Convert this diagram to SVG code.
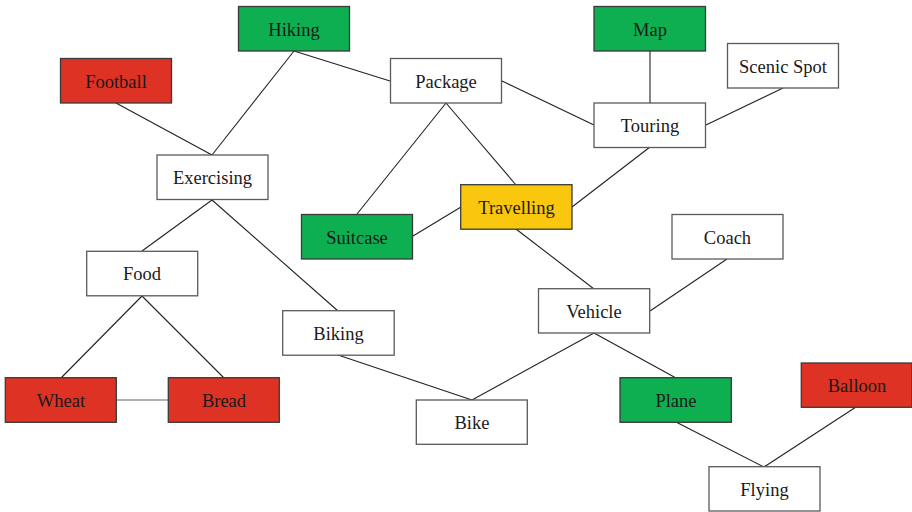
<svg xmlns="http://www.w3.org/2000/svg" width="912" height="512" viewBox="0 0 912 512">
<style>
rect{stroke:#3a3a3a;stroke-width:1.3}
.w{fill:#fff;stroke:#5a5a5a}
.r{fill:#DE3224}
.g{fill:#0DAF50}
.y{fill:#F9C80E}
text{font-family:"Liberation Serif","Times New Roman",serif;font-size:18.5px;fill:#1a1a1a;text-anchor:middle}
#edges line{stroke:#222;stroke-width:1.1}
</style>
<rect width="912" height="512" fill="#fff" style="stroke:none"/>
<g id="edges">
<line x1="116" y1="103" x2="212" y2="155"/>
<line x1="294" y1="51" x2="212" y2="155"/>
<line x1="294" y1="51" x2="390" y2="81"/>
<line x1="446" y1="103" x2="357" y2="214"/>
<line x1="446" y1="103" x2="516" y2="185"/>
<line x1="502" y1="81" x2="594" y2="125"/>
<line x1="650" y1="51" x2="650" y2="103"/>
<line x1="783" y1="88" x2="706" y2="125"/>
<line x1="650" y1="147" x2="572" y2="207"/>
<line x1="413" y1="236" x2="461" y2="207"/>
<line x1="516" y1="229" x2="594" y2="289"/>
<line x1="727" y1="259" x2="650" y2="311"/>
<line x1="212" y1="200" x2="142" y2="251"/>
<line x1="212" y1="200" x2="338" y2="311"/>
<line x1="142" y1="296" x2="61" y2="378"/>
<line x1="142" y1="296" x2="224" y2="378"/>
<line x1="116" y1="400" x2="168" y2="400" style="stroke:#666"/>
<line x1="338" y1="355" x2="472" y2="400"/>
<line x1="594" y1="333" x2="472" y2="400"/>
<line x1="594" y1="333" x2="676" y2="378"/>
<line x1="676" y1="422" x2="764" y2="467"/>
<line x1="856" y1="407" x2="764" y2="467"/>
</g>
<g id="hiking"><rect class="g" x="238.5" y="6.5" width="111" height="44.5"/><text x="294" y="35.5">Hiking</text></g>
<g id="football"><rect class="r" x="60.5" y="58.5" width="111" height="44.5"/><text x="116" y="87.5">Football</text></g>
<g id="package"><rect class="w" x="390.5" y="58.5" width="111" height="44.5"/><text x="446" y="87.5">Package</text></g>
<g id="map"><rect class="g" x="594" y="6.5" width="111.5" height="44.5"/><text x="650" y="35.5">Map</text></g>
<g id="scenic"><rect class="w" x="727.5" y="43.5" width="111" height="44.5"/><text x="783" y="72.5">Scenic Spot</text></g>
<g id="touring"><rect class="w" x="594" y="103" width="111.5" height="44.5"/><text x="650" y="131.5">Touring</text></g>
<g id="exercising"><rect class="w" x="157" y="155" width="111" height="44.5"/><text x="212.5" y="183.5">Exercising</text></g>
<g id="travelling"><rect class="y" x="460.7" y="184.7" width="111.3" height="44.5"/><text x="516.5" y="213.5">Travelling</text></g>
<g id="suitcase"><rect class="g" x="301.5" y="214.5" width="111" height="44.5"/><text x="357" y="243.5">Suitcase</text></g>
<g id="coach"><rect class="w" x="672" y="214.5" width="111" height="44.5"/><text x="727.5" y="243.5">Coach</text></g>
<g id="food"><rect class="w" x="86.7" y="251.3" width="111" height="44.5"/><text x="142" y="280">Food</text></g>
<g id="vehicle"><rect class="w" x="538.5" y="288.7" width="111.2" height="44.3"/><text x="594" y="317.5">Vehicle</text></g>
<g id="biking"><rect class="w" x="282.7" y="310.7" width="111.5" height="44.5"/><text x="338.5" y="339.5">Biking</text></g>
<g id="wheat"><rect class="r" x="5.3" y="377.7" width="111" height="44.6"/><text x="61" y="406.5">Wheat</text></g>
<g id="bread"><rect class="r" x="168.3" y="377.7" width="111" height="44.6"/><text x="224" y="406.5">Bread</text></g>
<g id="bike"><rect class="w" x="416.3" y="400" width="111" height="44.3"/><text x="472" y="428.5">Bike</text></g>
<g id="plane"><rect class="g" x="620" y="377.7" width="111.3" height="44.6"/><text x="676" y="406.5">Plane</text></g>
<g id="balloon"><rect class="r" x="801.3" y="363" width="110.7" height="44.3"/><text x="857" y="391.5">Balloon</text></g>
<g id="flying"><rect class="w" x="709" y="466.7" width="111" height="44.3"/><text x="764.5" y="495.5">Flying</text></g>
</svg>
